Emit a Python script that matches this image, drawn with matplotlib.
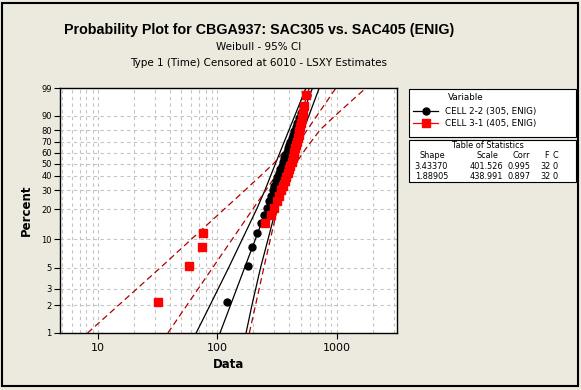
import numpy as np
import matplotlib
matplotlib.use('Agg')
import matplotlib.pyplot as plt
from matplotlib.patches import Rectangle
from matplotlib.lines import Line2D

W, H = 581, 390

# median rank plotting positions (percent), 32 failures per group
rank_pct = [2.16, 5.25, 8.33, 11.42, 14.51, 17.59, 20.68, 23.77, 26.85, 29.94,
            33.02, 36.11, 39.20, 42.28, 45.37, 48.46, 51.54, 54.63, 57.72, 60.80,
            63.89, 66.98, 70.06, 73.15, 76.23, 79.32, 82.41, 85.49, 88.58, 91.67,
            94.75, 97.84]

# CELL 2-2 (305, ENIG)
black_x = [119.6, 181.7, 193.6, 213.2, 233.4, 247.4, 258.6, 268.8, 279.9, 289.7,
           299.4, 309.4, 318.4, 327.8, 336.7, 345.3, 354.0, 363.0, 371.5, 380.2,
           389.0, 398.9, 408.2, 418.6, 429.2, 440.1, 453.0, 466.3, 481.8, 500.5,
           525.3, 566.3]
# CELL 3-1 (405, ENIG)
red_x = [31.8, 58.3, 74.4, 76.4, 252.0, 283.0, 299.4, 314.8, 328.9, 342.6,
         355.3, 367.9, 378.7, 389.0, 398.9, 409.0, 418.6, 427.6, 434.7, 441.8,
         448.7, 456.5, 463.6, 470.8, 479.0, 486.5, 495.0, 503.7, 512.5, 521.4,
         533.5, 555.6]

# 95% confidence bounds
ci_pct = [1, 2, 5, 10, 20, 30, 50, 63.2, 80, 90, 99]
black_lo = [66.4, 86.9, 124.1, 161.9, 213.6, 250.2, 306.4, 343.2, 398.1, 445.2, 552.5]
black_hi = [173.9, 194.8, 229.9, 266.1, 309.3, 346.5, 414.6, 458.3, 526.3, 584.2, 713.9]
red_lo = [8.17, 14.9, 33.2, 60.8, 114.4, 170.2, 295.3, 375.8, 449.4, 498.8, 588.8]
red_hi = [185.3, 208.8, 244.9, 278.2, 317.8, 359.4, 452.0, 548.2, 723.4, 967.8, 1755]

# table of statistics
labels = ['CELL 2-2 (305, ENIG)', 'CELL 3-1 (405, ENIG)']
shape = [3.43370, 1.88905]
scale = [401.526, 438.991]
corr = [0.995, 0.897]
n_fail = [32, 32]
n_cens = [0, 0]

y_ticks = [1, 2, 3, 5, 10, 20, 30, 40, 50, 60, 70, 80, 90, 99]

bg = '#ECE9DF'
ci_red = '#B00000'


def fwd(p):
    p = np.clip(np.asarray(p, dtype=float), 1e-6, 100 - 1e-6)
    return np.log(-np.log(1 - p / 100.0))


def inv(w):
    return 100.0 * (1 - np.exp(-np.exp(w)))


def fig_xy(x, y):  # pixel coords -> figure fraction
    return x / W, 1 - y / H


fig = plt.figure(figsize=(W / 100, H / 100), dpi=100, facecolor=bg)
x0, y0 = fig_xy(60, 333)
x1, y1 = fig_xy(397, 88)
ax = fig.add_axes([x0, y0, x1 - x0, y1 - y0])
ax.set_facecolor('white')

ax.set_xscale('log')
ax.set_yscale('function', functions=(fwd, inv))
ax.set_xlim(4.8, 3200)
ax.set_ylim(1, 99)

ax.set_xticks([10, 100, 1000], labels=['10', '100', '1000'])
ax.set_yticks(y_ticks, labels=[str(v) for v in y_ticks])
ax.tick_params(axis='x', which='major', labelsize=8, length=4, width=0.8)
ax.tick_params(axis='y', which='major', labelsize=6, length=4, width=0.8, pad=2)
ax.tick_params(which='minor', length=0)
ax.grid(True, which='both', axis='x', color='#c4c4c4', lw=0.8, ls=(0, (3, 3)))
ax.grid(True, which='major', axis='y', color='#c4c4c4', lw=0.8, ls=(0, (3, 3)))
ax.set_axisbelow(True)
for s in ax.spines.values():
    s.set_linewidth(1.0)

# fitted lines from shape / scale
pct_ends = np.array([1, 99])
fit_b = scale[0] * (-np.log(1 - pct_ends / 100)) ** (1 / shape[0])
fit_r = scale[1] * (-np.log(1 - pct_ends / 100)) ** (1 / shape[1])

ax.plot(fit_b, pct_ends, color='black', lw=0.9)
ax.plot(black_lo, ci_pct, color='black', lw=0.9)
ax.plot(black_hi, ci_pct, color='black', lw=0.9)

dash = (0, (5, 3))
ax.plot(fit_r, pct_ends, color=ci_red, lw=0.9, ls=dash)
ax.plot(red_lo, ci_pct, color=ci_red, lw=0.9, ls=dash)
ax.plot(red_hi, ci_pct, color=ci_red, lw=0.9, ls=dash)

ax.plot(black_x, rank_pct, 'o', color='black', ms=5, mec='black')
ax.plot(red_x, rank_pct, 's', color='red', ms=5.5, mec='red')

ax.set_xlabel('Data', fontsize=8.5, fontweight='bold', labelpad=3)
ax.set_ylabel('Percent', fontsize=8.5, fontweight='bold', labelpad=6)

# titles
fig.text(*fig_xy(259, 30), 'Probability Plot for CBGA937: SAC305 vs. SAC405 (ENIG)',
         ha='center', va='center', fontsize=10.3, fontweight='bold',
         family='Liberation Sans')
fig.text(*fig_xy(259, 47), 'Weibull - 95% CI', ha='center', va='center', fontsize=7.5)
fig.text(*fig_xy(259, 63), 'Type 1 (Time) Censored at 6010 - LSXY Estimates',
         ha='center', va='center', fontsize=7.5)

# legend box
fs = 6.3
lx0, ly0 = fig_xy(408.5, 136.5)
lx1, ly1 = fig_xy(576, 88.5)
fig.add_artist(Rectangle((lx0, ly0), lx1 - lx0, ly1 - ly0, transform=fig.transFigure,
                         facecolor='white', edgecolor='black', lw=0.8))
fig.text(*fig_xy(466, 100), 'Variable', ha='center', va='baseline', fontsize=fs)
styles = [dict(color='black', marker='o', ms=5), dict(color='red', marker='s', ms=5.5)]
for i, (lab, st) in enumerate(zip(labels, styles)):
    yy = 110.5 + i * 12.8
    xa, ya = fig_xy(413, yy)
    xb, _ = fig_xy(438, yy)
    xm, _ = fig_xy(425.5, yy)
    fig.add_artist(Line2D([xa, xb], [ya, ya], transform=fig.transFigure,
                          color=st['color'], lw=0.9))
    fig.add_artist(Line2D([xm], [ya], transform=fig.transFigure, color=st['color'],
                          marker=st['marker'], ms=st['ms'], ls='none'))
    fig.text(*fig_xy(445, yy + 3), lab, ha='left', va='baseline', fontsize=fs)

# statistics box
sx0, sy0 = fig_xy(408.5, 182)
sx1, sy1 = fig_xy(576, 139.5)
fig.add_artist(Rectangle((sx0, sy0), sx1 - sx0, sy1 - sy0, transform=fig.transFigure,
                         facecolor='white', edgecolor='black', lw=0.8))
fs2 = 5.9
fig.text(*fig_xy(488, 148.5), 'Table of Statistics', ha='center', va='baseline', fontsize=fs2)
hdr = [('Shape', 432), ('Scale', 487.5), ('Corr', 521), ('F', 546.5), ('C', 555)]
for t, xc in hdr:
    fig.text(*fig_xy(xc, 158.5), t, ha='center', va='baseline', fontsize=fs2)
for i in range(2):
    yy = 169 + i * 10.5
    row = [('%.5f' % shape[i], 448), ('%.3f' % scale[i], 503), ('%.3f' % corr[i], 530),
           (str(n_fail[i]), 551), (str(n_cens[i]), 557.5)]
    for t, xr in row:
        fig.text(*fig_xy(xr, yy), t, ha='right', va='baseline', fontsize=fs2)

# outer frame
bx0, by0 = fig_xy(2, 386)
bx1, by1 = fig_xy(578, 3)
fig.add_artist(Rectangle((bx0, by0), bx1 - bx0, by1 - by0, transform=fig.transFigure,
                         fill=False, edgecolor='black', lw=1.5))

fig.savefig('out.png', dpi=100, facecolor=bg)
